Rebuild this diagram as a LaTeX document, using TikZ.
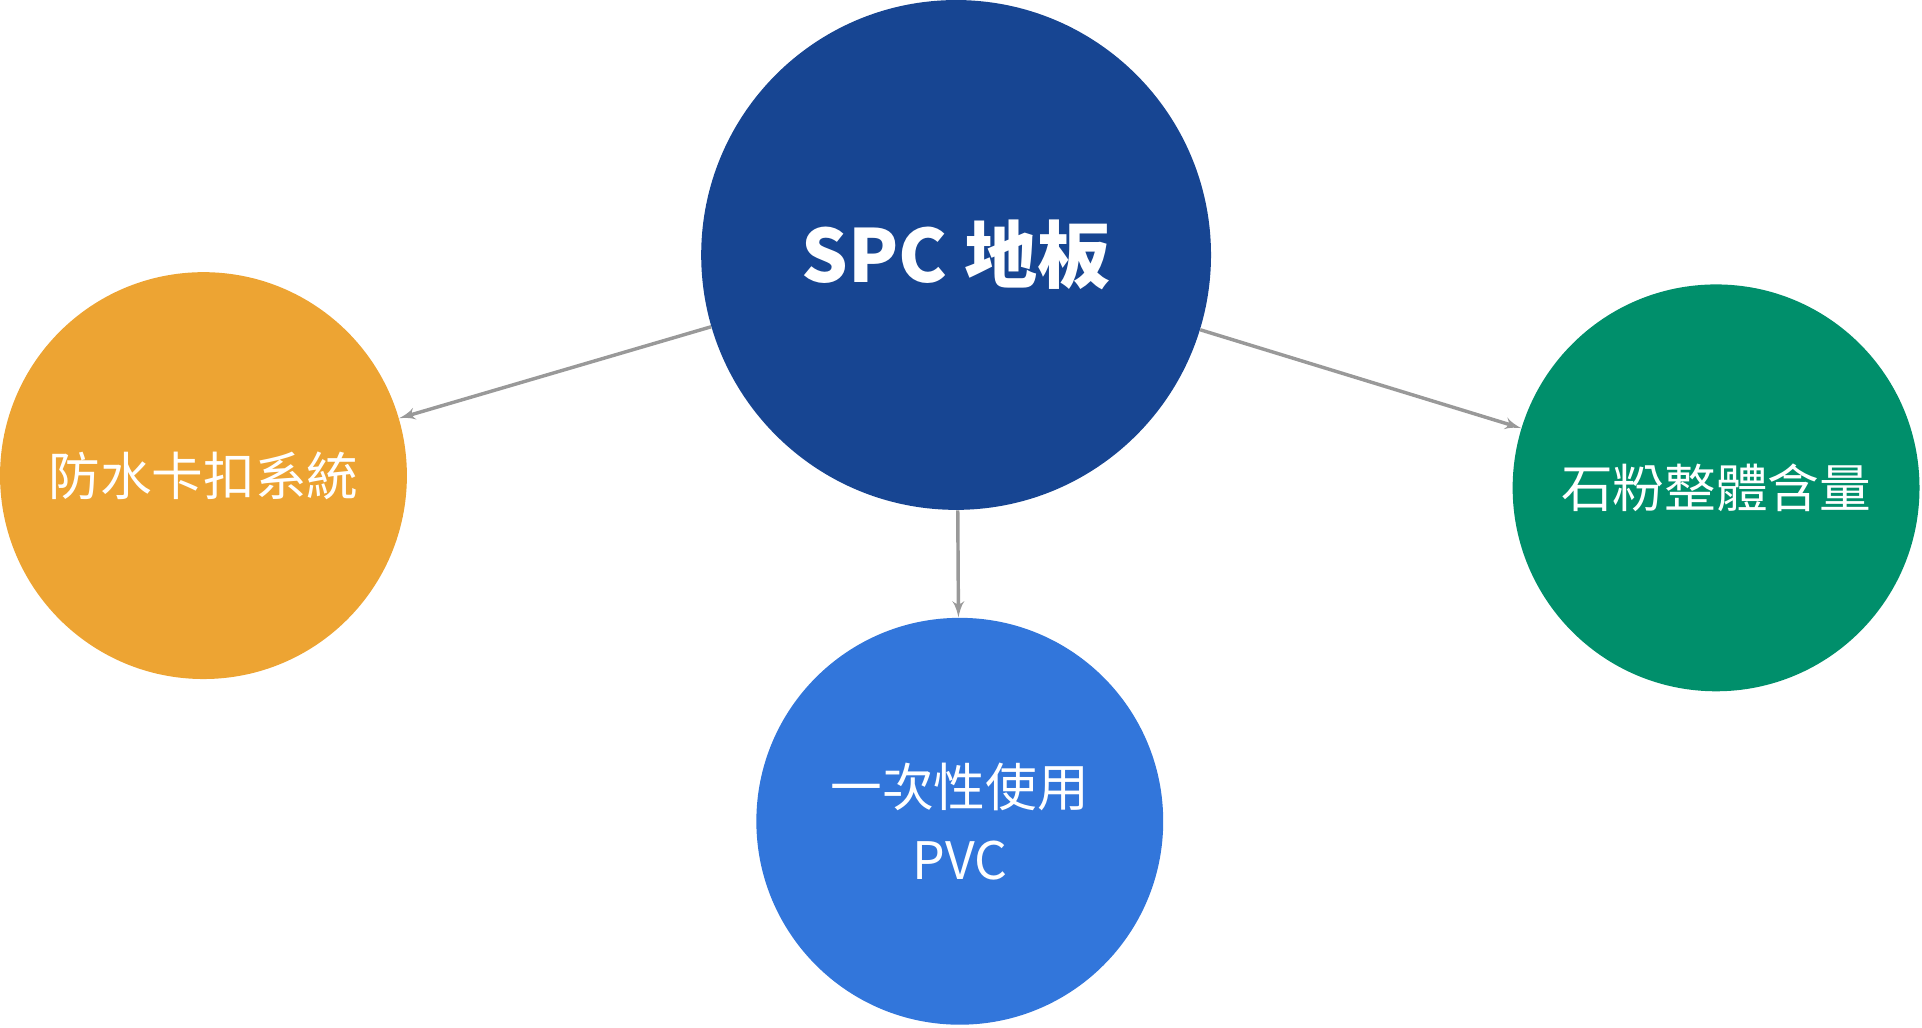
\documentclass[tikz,border=0pt]{standalone}
\usepackage{fontspec}
\setmainfont{Noto Sans CJK TC}
\usetikzlibrary{arrows}
\definecolor{spcblue}{HTML}{174592}
\definecolor{wateror}{HTML}{EDA433}
\definecolor{stonegr}{HTML}{008F6B}
\definecolor{pvcblue}{HTML}{3276DB}
\definecolor{linegray}{HTML}{999999}
\tikzstyle{bubble} = [circle, inner sep=0pt, text=white, align=center,
    font=\fontsize{24}{34}\selectfont]
\tikzstyle{line} = [draw, linegray, line width=1.6pt, -latex']

\begin{document}
\begin{tikzpicture}[x=0.02cm, y=-0.02cm]
\useasboundingbox (0,0) rectangle (1568,838);
\node[bubble, fill=spcblue, minimum size=8.32cm, font=\fontsize{34}{40}\selectfont\bfseries] (spc) at (780,208) {SPC 地板};
\node[bubble, fill=wateror, minimum size=6.64cm] (water) at (166,388) {防水卡扣系統};
\node[bubble, fill=stonegr, minimum size=6.64cm] (stone) at (1400,398) {石粉整體含量};
\node[bubble, fill=pvcblue, minimum size=6.64cm] (pvc) at (783,670) {一次性使用\\PVC};
\path [line] (spc) -- (water);
\path [line] (spc) -- (stone);
\path [line] (spc) -- (pvc);
\end{tikzpicture}
\end{document}
